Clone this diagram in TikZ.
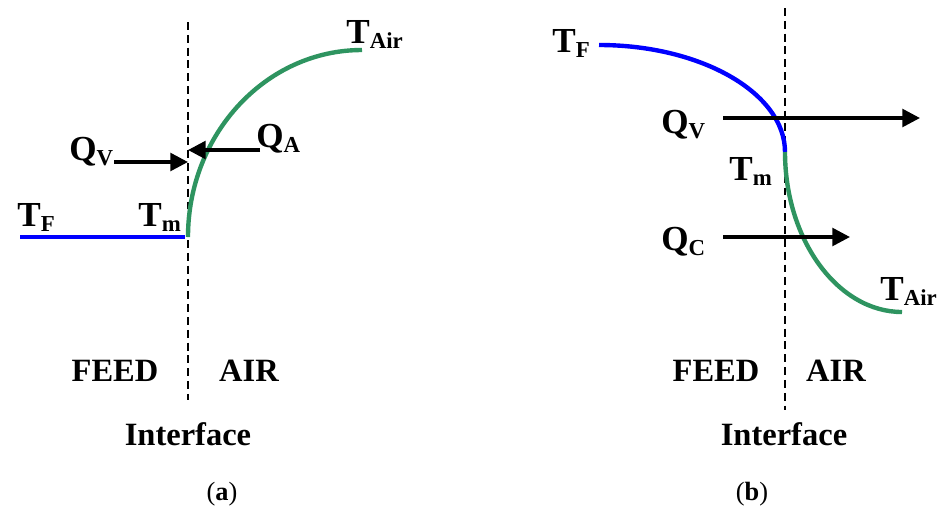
\documentclass[tikz,border=0pt]{standalone}
\usepackage{fontspec}
\setmainfont{Liberation Serif}
\usetikzlibrary{arrows.meta, positioning, calc}
\definecolor{airgreen}{RGB}{46,148,96}
\newcommand{\tsym}[2]{#1\raisebox{-0.35ex}{\fontsize{13}{14}\selectfont #2}}

\begin{document}
\begin{tikzpicture}[
        x=0.02cm, y=-0.02cm,
        lbl/.style={font=\fontsize{20}{23}\selectfont\bfseries, inner sep=0pt, anchor=base west},
        side/.style={font=\fontsize{18.5}{21}\selectfont\bfseries, inner sep=0pt, anchor=base},
        captxt/.style={font=\fontsize{15}{17}\selectfont, inner sep=0pt, anchor=base},
        iface/.style={dash pattern=on 4.5pt off 2.8pt, line width=1.6pt},
        feedline/.style={draw=blue, line width=2.5pt},
        airline/.style={draw=airgreen, line width=2.5pt},
        heat/.style={-{Triangle[length=10pt,width=10pt]}, line width=2pt}
    ]
        \useasboundingbox (0,0) rectangle (946,508);

        % (a) condensation side
        \coordinate (ifaTop) at (188,22);
        \coordinate (ifaBot) at (188,400);
        \coordinate (feedA) at (20,237);
        \coordinate (wallA) at (185,237);
        \coordinate (tmA) at (188,237);
        \coordinate (airA) at (362,50);
        \coordinate (qvA) at (114,162);
        \coordinate (qvAend) at (188,162);
        \coordinate (qaA) at (260,150);
        \coordinate (qaAend) at (188,150);

        \draw[iface] (ifaTop) -- (ifaBot);
        \draw[feedline] (feedA) -- (wallA);
        \draw[airline] (tmA) .. controls (188,134) and (266,50) .. (airA);
        \draw[heat] (qvA) -- (qvAend);
        \draw[heat] (qaA) -- (qaAend);

        \node[lbl] (tfA) at (17,226) {\tsym{T}{F}};
        \node[lbl] (tmlblA) at (138,226) {\tsym{T}{m}};
        \node[lbl] (qvlblA) at (69,160) {\tsym{Q}{V}};
        \node[lbl] (qalblA) at (256,147) {\tsym{Q}{A}};
        \node[lbl] (tairA) at (346,43) {\tsym{T}{Air}};
        \node[side] (feedtxtA) at (115,381) {FEED};
        \node[side] (airtxtA) at (249,381) {AIR};
        \node[side] (ifacetxtA) at (188,445) {Interface};
        \node[captxt] (capA) at (222,500) {(\textbf{a})};

        % (b) evaporation side
        \coordinate (ifbTop) at (785,8);
        \coordinate (ifbBot) at (785,410);
        \coordinate (feedB) at (599,45);
        \coordinate (tmB) at (785,152);
        \coordinate (airB) at (902,312);
        \coordinate (qvB) at (723,118);
        \coordinate (qvBend) at (920,118);
        \coordinate (qcB) at (723,237);
        \coordinate (qcBend) at (850,237);

        \draw[iface] (ifbTop) -- (ifbBot);
        \draw[feedline] (feedB) .. controls (701,45) and (785,93) .. (tmB);
        \draw[airline] (tmB) .. controls (785,240) and (838,312) .. (airB);
        \draw[heat] (qvB) -- (qvBend);
        \draw[heat] (qcB) -- (qcBend);

        \node[lbl] (tfB) at (552,52) {\tsym{T}{F}};
        \node[lbl] (qvlblB) at (661,133) {\tsym{Q}{V}};
        \node[lbl] (tmlblB) at (729,180) {\tsym{T}{m}};
        \node[lbl] (qclblB) at (661,250) {\tsym{Q}{C}};
        \node[lbl] (tairB) at (880,300) {\tsym{T}{Air}};
        \node[side] (feedtxtB) at (716,381) {FEED};
        \node[side] (airtxtB) at (836,381) {AIR};
        \node[side] (ifacetxtB) at (784,445) {Interface};
        \node[captxt] (capB) at (752,500) {(\textbf{b})};
    \end{tikzpicture}
\end{document}
